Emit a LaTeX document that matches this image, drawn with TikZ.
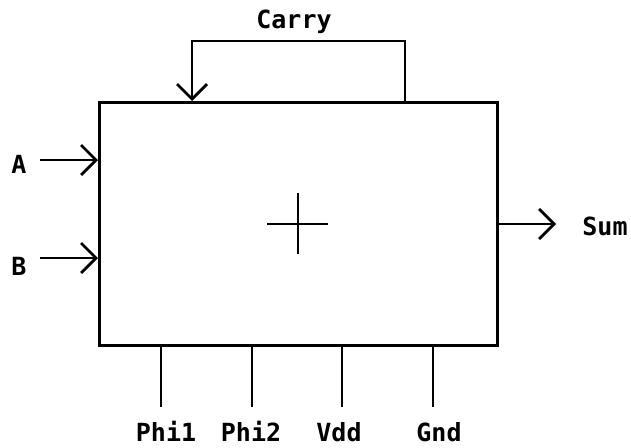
\documentclass[tikz,border=0pt]{standalone}
\usepackage{fontspec}
\setmainfont{DejaVu Sans Mono}[BoldFont={DejaVu Sans Mono Bold}]
\usetikzlibrary{arrows.meta}
\begin{document}
\begin{tikzpicture}[x=1pt,y=-1pt,
  wire/.style={line width=2.8pt},
  inarrow/.style={wire,-{Straight Barb[length=15pt,width=30pt,line width=2.8pt]}},
  lbl/.style={inner sep=0pt,anchor=base,font=\fontsize{25}{25}\selectfont\bfseries}]
\useasboundingbox (0,0) rectangle (631,447);
\node[draw,line width=2.8pt,minimum width=398pt,minimum height=243pt,inner sep=0pt,anchor=north west] (box) at (98,101) {};
% center cross
\coordinate (cl) at (267,224); \coordinate (cr) at (328,224);
\coordinate (ct) at (298,193); \coordinate (cb) at (298,254);
\draw[wire] (cl) -- (cr); \draw[wire] (ct) -- (cb);
% carry loop
\coordinate (cout) at (405,101); \coordinate (cin) at (192,101);
\draw[inarrow] (cout) -- (405,41) -- (192,41) -- (cin);
\node[lbl] (carry) at (294,28) {Carry};
% inputs
\coordinate (ina) at (98,160); \coordinate (inb) at (98,258);
\node[lbl] (A) at (19,173) {A};
\node[lbl] (B) at (19,275) {B};
\coordinate (as) at (40,160); \coordinate (bs) at (40,258);
\draw[inarrow] (as) -- (ina);
\draw[inarrow] (bs) -- (inb);
% output
\coordinate (so) at (496,224); \coordinate (se) at (556,224);
\draw[inarrow] (so) -- (se);
\node[lbl] (sum) at (605,235) {Sum};
% pins
\foreach \x/\t/\lx in {161/Phi1/166,252/Phi2/251,342/Vdd/339,433/Gnd/439}{
  \coordinate (p\t) at (\x,344);
  \coordinate (q\t) at (\x,407);
  \draw[wire] (p\t) -- (q\t);
  \node[lbl] (l\t) at (\lx,441) {\t};
}
\end{tikzpicture}
\end{document}
